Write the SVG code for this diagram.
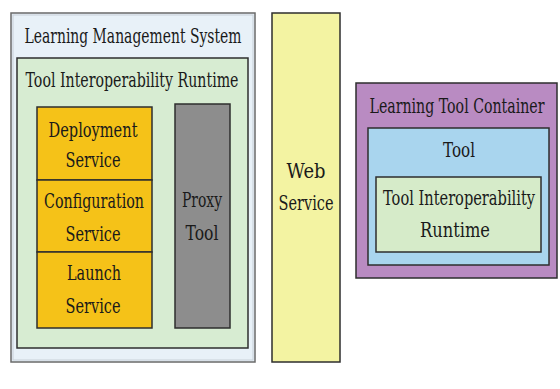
<svg xmlns="http://www.w3.org/2000/svg" width="560" height="389" viewBox="0 0 560 389">
<style>
.t{font-size:21px;fill:#1a1a1a;text-anchor:middle}
.b{stroke:#2e2e2e;stroke-width:1.5}
</style>
<rect width="560" height="389" fill="#ffffff"/>
<g font-family="DejaVu Serif, serif">
<g id="lms">
<rect x="11" y="13" width="244" height="349" fill="#e8f1f8" stroke="#6a6a6a" stroke-width="1.5"/>
<rect x="13" y="15" width="240" height="345" fill="none" stroke="#c8d0d8" stroke-width="1"/>
<text class="t" x="133" y="43" textLength="217" lengthAdjust="spacingAndGlyphs">Learning Management System</text>
</g>
<g id="tir">
<rect x="17" y="58" width="231" height="290" fill="#d7ecd2" class="b"/>
<text class="t" x="132" y="87" textLength="213" lengthAdjust="spacingAndGlyphs">Tool Interoperability Runtime</text>
</g>
<g id="deployment">
<rect x="37" y="107" width="115" height="73" fill="#f5c218" class="b"/>
<text class="t" x="93" y="137" textLength="89" lengthAdjust="spacingAndGlyphs">Deployment</text>
<text class="t" x="93" y="167" textLength="55" lengthAdjust="spacingAndGlyphs">Service</text>
</g>
<g id="configuration">
<rect x="37" y="180" width="115" height="72" fill="#f5c218" class="b"/>
<text class="t" x="94" y="208" textLength="100" lengthAdjust="spacingAndGlyphs">Configuration</text>
<text class="t" x="93" y="241" textLength="55" lengthAdjust="spacingAndGlyphs">Service</text>
</g>
<g id="launch">
<rect x="37" y="252" width="115" height="76" fill="#f5c218" class="b"/>
<text class="t" x="94" y="280" textLength="54" lengthAdjust="spacingAndGlyphs">Launch</text>
<text class="t" x="93" y="313" textLength="55" lengthAdjust="spacingAndGlyphs">Service</text>
</g>
<g id="proxy">
<rect x="175" y="104" width="55" height="224" fill="#8d8d8d" class="b"/>
<text class="t" x="202" y="207" textLength="40" lengthAdjust="spacingAndGlyphs">Proxy</text>
<text class="t" x="202" y="240" textLength="33" lengthAdjust="spacingAndGlyphs">Tool</text>
</g>
<g id="webservice">
<rect x="272" y="13" width="68" height="349" fill="#f3f3a2" class="b"/>
<text class="t" x="306" y="178" textLength="39" lengthAdjust="spacingAndGlyphs">Web</text>
<text class="t" x="306" y="210" textLength="55" lengthAdjust="spacingAndGlyphs">Service</text>
</g>
<g id="container">
<rect x="356" y="83" width="201" height="195" fill="#b98bc2" class="b"/>
<text class="t" x="457" y="113" textLength="175" lengthAdjust="spacingAndGlyphs">Learning Tool Container</text>
</g>
<g id="tool">
<rect x="368" y="128" width="181" height="137" fill="#a9d5ee" class="b"/>
<text class="t" x="459" y="157" textLength="32" lengthAdjust="spacingAndGlyphs">Tool</text>
</g>
<g id="tir2">
<rect x="376" y="177" width="165" height="75" fill="#d6ebc9" class="b"/>
<text class="t" x="459" y="205" textLength="152" lengthAdjust="spacingAndGlyphs">Tool Interoperability</text>
<text class="t" x="455" y="237" textLength="70" lengthAdjust="spacingAndGlyphs">Runtime</text>
</g>
</g>
<g id="connectors"></g>
</svg>
